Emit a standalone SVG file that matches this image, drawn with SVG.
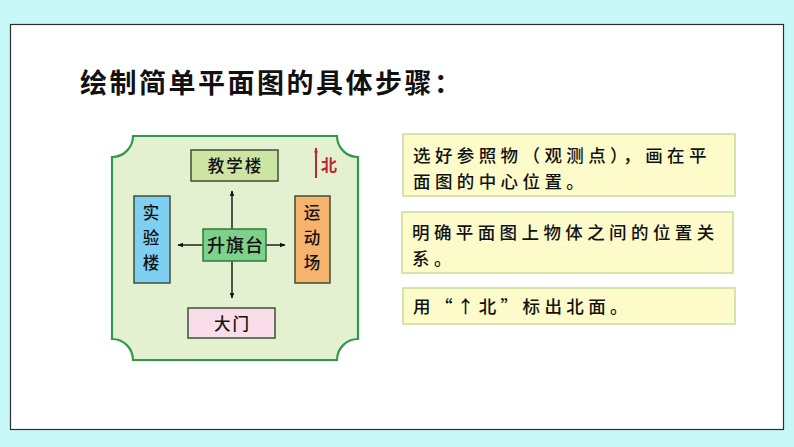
<svg xmlns="http://www.w3.org/2000/svg" width="794" height="447" viewBox="0 0 794 447">
<style>
.t{font-family:"Noto Sans CJK SC","Liberation Sans",sans-serif;fill:#111}
.title{font-size:27px;font-weight:600;letter-spacing:2.5px}
.lab{font-size:16.5px;font-weight:500;letter-spacing:2px}
.step{font-size:17.5px;font-weight:500;letter-spacing:4.4px}
.bx{stroke:#3d4f3a;stroke-width:1.5}
.sbox{fill:#fcfbc9;stroke:#c8dc9c;stroke-width:1.5}
.conn{stroke:#111;stroke-width:1.4;fill:none;marker-end:url(#ah)}
</style>
<defs>
<marker id="ah" viewBox="0 0 10 10" refX="9" refY="5" markerWidth="6" markerHeight="6" orient="auto" markerUnits="userSpaceOnUse">
<path d="M0,1 L10,5 L0,9 Z" fill="#111"/>
</marker>
<marker id="rh" viewBox="0 0 10 10" refX="9" refY="5" markerWidth="5" markerHeight="5" orient="auto" markerUnits="userSpaceOnUse">
<path d="M0,1 L10,5 L0,9 Z" fill="#c0272d"/>
</marker>
</defs>
<rect x="0" y="0" width="794" height="447" fill="#c8f7f7"/>
<rect x="10.5" y="24.5" width="773" height="405" fill="#ffffff" stroke="#2a2f33" stroke-width="1.2"/>
<text class="t title" x="80" y="93">绘制简单平面图的具体步骤：</text>

<g id="map">
<path d="M133,136 L337,136 A21,21 0 0 0 358,157 L358,339 A21,21 0 0 0 337,360 L133,360 A21,21 0 0 0 112,339 L112,157 A21,21 0 0 0 133,136 Z" fill="#e4f1d1" stroke="#2e9b4c" stroke-width="2.2"/>
</g>

<g id="connectors">
<line class="conn" x1="232" y1="229" x2="232" y2="191"/>
<line class="conn" x1="232" y1="261" x2="232" y2="298"/>
<line class="conn" x1="203" y1="245" x2="178" y2="245"/>
<line class="conn" x1="266" y1="245" x2="285" y2="245"/>
</g>

<g id="north">
<line x1="316" y1="178" x2="316" y2="148" stroke="#c0272d" stroke-width="2" marker-end="url(#rh)"/>
<text class="t" x="321" y="171" style="font-size:16px;font-weight:700;fill:#c0272d">北</text>
</g>

<g id="jiaoxuelou">
<rect class="bx" x="191" y="150" width="87" height="31" fill="#cde4a2"/>
<text class="t lab" x="235.5" y="172" text-anchor="middle">教学楼</text>
</g>
<g id="shiyanlou">
<rect class="bx" x="134" y="196" width="36" height="87" fill="#7fcff1"/>
<text class="t lab" x="152" y="219" text-anchor="middle">实</text>
<text class="t lab" x="152" y="244" text-anchor="middle">验</text>
<text class="t lab" x="152" y="269" text-anchor="middle">楼</text>
</g>
<g id="shengqitai">
<rect x="203" y="229" width="63" height="32" fill="#7fd08b" stroke="#2c7a3c" stroke-width="1.5"/>
<text class="t" x="235.5" y="252" text-anchor="middle" style="font-size:18px;font-weight:500;letter-spacing:1px">升旗台</text>
</g>
<g id="yundongchang">
<rect class="bx" x="295" y="196" width="35" height="87" fill="#f6b36b"/>
<text class="t lab" x="313" y="219" text-anchor="middle">运</text>
<text class="t lab" x="313" y="244" text-anchor="middle">动</text>
<text class="t lab" x="313" y="269" text-anchor="middle">场</text>
</g>
<g id="damen">
<rect class="bx" x="188" y="308" width="87" height="30" fill="#f9dde8"/>
<text class="t lab" x="232.5" y="330" text-anchor="middle">大门</text>
</g>

<g id="step1">
<rect class="sbox" x="403" y="134" width="332" height="62"/>
<text class="t step" x="413" y="162">选好参照物（观测点），画在平</text>
<text class="t step" x="413" y="188">面图的中心位置。</text>
</g>
<g id="step2">
<rect class="sbox" x="402" y="212" width="331" height="61"/>
<text class="t step" x="412" y="239">明确平面图上物体之间的位置关</text>
<text class="t step" x="412" y="265">系。</text>
</g>
<g id="step3">
<rect class="sbox" x="403" y="288" width="332" height="36"/>
<text class="t step" x="413" y="313">用“↑北”标出北面。</text>
</g>
</svg>
